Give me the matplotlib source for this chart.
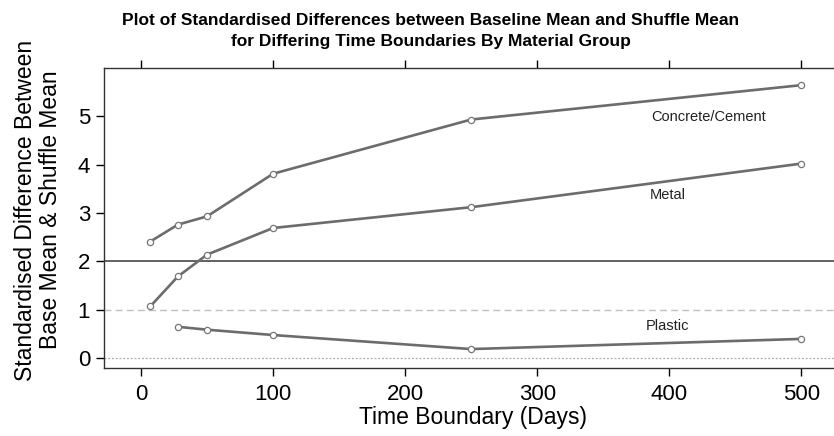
import matplotlib
matplotlib.use("Agg")
import matplotlib.pyplot as plt

# valores
days_concrete = [7, 28, 50, 100, 250, 500]
concrete = [2.41, 2.76, 2.93, 3.81, 4.93, 5.64]
days_metal = [7, 28, 50, 100, 250, 500]
metal = [1.07, 1.69, 2.14, 2.69, 3.12, 4.02]
days_plastic = [28, 50, 100, 250, 500]
plastic = [0.65, 0.59, 0.48, 0.19, 0.40]

group_labels = ["Concrete/Cement", "Metal", "Plastic"]
label_pos = [(430, 4.99), (399, 3.38), (399, 0.67)]

x_ticks = [0, 100, 200, 300, 400, 500]
y_ticks = [0, 1, 2, 3, 4, 5]

plt.rcParams["font.family"] = ["Liberation Sans", "DejaVu Sans"]

fig = plt.figure(figsize=(8.34, 4.36), dpi=100)
ax = fig.add_axes([104 / 834, 67.7 / 436, (834 - 104) / 834 + 0.01, 300.6 / 436])

line_col = "#6c6c6c"
for xs, ys in [(days_concrete, concrete), (days_metal, metal), (days_plastic, plastic)]:
    ax.plot(xs, ys, color=line_col, lw=1.9, marker="o", ms=4.5,
            mfc="white", mec="#777777", mew=0.9, zorder=3)

# lineas de referencia
ax.axhline(2, color="#555555", lw=1.3, zorder=2)
ax.axhline(1, color="#c0c0c0", lw=1.0, ls=(0, (5, 3)), zorder=1)
ax.axhline(0, color="#a8a8a8", lw=0.9, ls=(0, (1.5, 1.5)), zorder=1)

for txt, (x, y) in zip(group_labels, label_pos):
    ax.text(x, y, txt, ha="center", va="center", fontsize=10.5, color="#222222")

ax.set_xlim(-28, 531)
ax.set_ylim(-0.207, 6.0)
ax.set_xticks(x_ticks)
ax.set_yticks(y_ticks)
ax.tick_params(axis="x", which="both", top=True, bottom=True, direction="out",
               length=6, width=1, labelsize=16, pad=5)
ax.tick_params(axis="y", which="both", left=True, right=False, direction="out",
               length=6, width=1, labelsize=16, pad=4)
ax.spines["right"].set_visible(False)
for s in ["left", "top", "bottom"]:
    ax.spines[s].set_linewidth(1.0)
    ax.spines[s].set_color("#333333")

ax.set_xlabel("Time Boundary (Days)", fontsize=16.5, labelpad=1)
fig.text(38 / 834, 0.5 + 8 / 436, "Standardised Difference Between\nBase Mean & Shuffle Mean",
         rotation=90, ha="center", va="center", fontsize=16.5, linespacing=1.1)

fig.text(431 / 834, 1 - 31 / 436,
         "Plot of Standardised Differences between Baseline Mean and Shuffle Mean\n"
         "for Differing Time Boundaries By Material Group",
         ha="center", va="center", fontsize=12.5, fontweight="bold", linespacing=1.5)

fig.savefig("out.png", dpi=100)
